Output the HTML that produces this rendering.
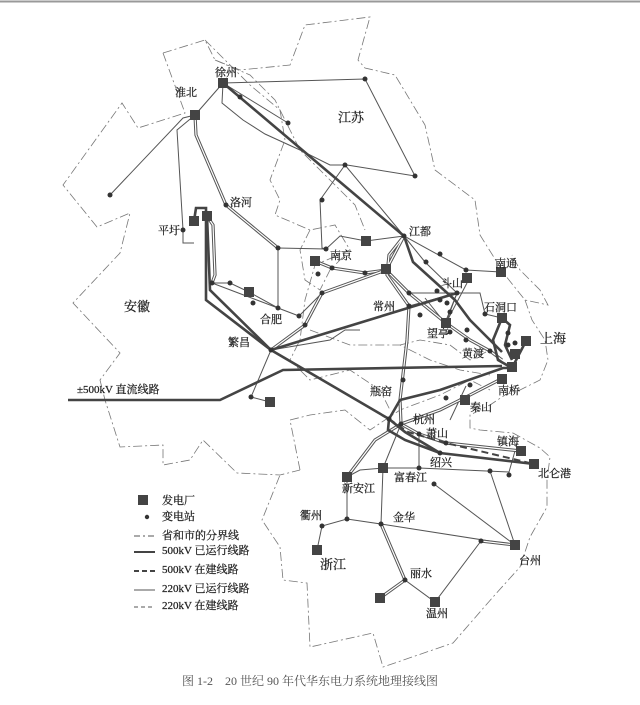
<!DOCTYPE html>
<html><head><meta charset="utf-8"><style>
body{margin:0;background:#fff;}
svg{display:block;font-family:"Liberation Serif","Noto Serif CJK SC",serif;}
.b{fill:none;stroke:#777;stroke-width:0.8;stroke-dasharray:9 3 2 3;}
.t{fill:none;stroke:#444;stroke-width:2.6;}
.s{fill:none;stroke:#555;stroke-width:1;}
.d{fill:none;stroke:#555;stroke-width:3.2;}
.di{fill:none;stroke:#fff;stroke-width:1.2;}
text{font-size:11px;fill:#222;stroke:#222;stroke-width:0.25;}
</style></head><body>
<svg width="640" height="705" viewBox="0 0 640 705">
<line x1="0" y1="1.5" x2="640" y2="1.5" stroke="#999" stroke-width="2"/>
<!-- borders -->
<polyline class="b" points="163,53 205,40 215,60 240,70 290,65 305,25 370,17 358,60 365,68 395,75 425,125 435,170 475,200 480,235 505,275 525,300 548,305 540,290 520,270 512,255"/>
<polyline class="b" points="525,300 532,320 545,340 548,360 540,380 520,390 505,395 490,405 470,415 470,428 480,430 513,433 540,448 550,457 547,480 547,507 530,537 520,567 493,597 453,643 383,667 373,633 310,647 307,583 283,580 280,547 262,520 280,475"/>
<polyline class="b" points="163,53 185,113 138,128 122,103 63,185 97,227 130,213 120,253 73,303 120,353 100,380 105,400 120,447 163,445 163,465 190,460 203,440 237,473 280,475 300,470"/>
<polyline class="b" points="300,470 290,420 310,415 345,410 370,430 400,410 440,395 470,380 490,390"/>
<polyline class="b" points="205,40 225,60 250,85 280,110 285,140 270,180 280,200 275,215 310,230 335,225 350,250 315,265 305,300 300,340 290,360 310,380 350,370 380,390 390,410"/>
<polyline class="b" points="215,60 250,75 275,100 290,130 300,150 320,170 340,190 355,205 365,230"/>
<polyline class="b" points="310,330 350,345 400,345 430,360 460,370 490,375"/>
<polyline class="b" points="400,345 420,340 450,345 470,360 490,350"/>
<polyline class="b" points="310,230 300,250 305,280 320,290 330,270 345,255"/>
<!-- 220kV lines single -->
<g class="s">
<polyline points="223,83 365,79 415,176 347,165"/>
<polyline points="223,83 288,123"/>
<polyline points="223,83 195,115 183,118 110,195"/>
<polyline points="195,115 177,130 183,230 183,243 194,243"/>
<polyline points="223,83 222,103 243,120 265,134 300,150 330,165 345,165 404,236 466,270 501,272"/>
<polyline points="345,165 320,200 322,248 326,249"/>
<polyline points="278,248 326,249 340,236 366,241 404,236"/>
<polyline points="278,248 278,308"/>
<polyline points="212,283 230,283 249,292 278,308 299,316 322,293"/>
<polyline points="212,283 278,308"/>
<polyline points="404,236 425,262 457,293 446,323 467,283"/>
<polyline points="409,293 457,293 480,293 485,314 502,318"/>
<polyline points="409,306 457,293 445,323 425,298"/>
<polyline points="271,350 251,397 270,402"/>
<polyline points="271,350 330,340 345,330 360,330"/>
<polyline points="401,424 383,468 381,524 347,519 322,526 317,550"/>
<polyline points="347,477 347,519"/>
<polyline points="381,524 515,545 490,471"/>
<polyline points="381,524 405,580 435,602 481,541 515,545"/>
<polyline points="434,484 515,545"/>
<polyline points="419,434 419,468 383,468"/>
<polyline points="419,468 509,472 515,451"/>
<polyline points="347,477 360,470 383,468"/>
<polyline points="466,386 450,420"/>
</g>
<!-- double lines -->
<g>
<polyline class="d" points="195,115 196,135 226,205 278,248"/>
<polyline class="di" points="195,115 196,135 226,205 278,248"/>
<polyline class="d" points="207,216 213,225 215,275 212,283"/>
<polyline class="di" points="207,216 213,225 215,275 212,283"/>
<polyline class="d" points="315,261 332,268 365,273 386,270"/>
<polyline class="di" points="315,261 332,268 365,273 386,270"/>
<polyline class="d" points="271,350 305,325 322,293 386,270 404,236 389,255 387,275 409,306 407,340 400,400 401,424"/>
<polyline class="di" points="271,350 305,325 322,293 386,270 404,236 389,255 387,275 409,306 407,340 400,400 401,424"/>
<polyline class="d" points="386,270 409,293 446,323 470,340 490,351 502,360"/>
<polyline class="di" points="386,270 409,293 446,323 470,340 490,351 502,360"/>
<polyline class="d" points="347,477 375,440 401,424 440,410 470,395 503,378"/>
<polyline class="di" points="347,477 375,440 401,424 440,410 470,395 503,378"/>
<polyline class="d" points="401,424 419,434 446,443 521,451"/>
<polyline class="di" points="401,424 419,434 446,443 521,451"/>
<polyline class="d" points="381,524 405,580 380,598"/>
<polyline class="di" points="381,524 405,580 380,598"/>
<polyline class="d" points="481,541 515,545"/>
<polyline class="di" points="481,541 515,545"/>
</g>
<!-- 500kV -->
<g class="t">
<polyline points="223,83 404,236 413,262 455,300 470,320 502,352"/>
<polyline points="194,221 196,208 206,208 206,300 271,350 389,419 405,432 440,453 534,464"/>
<polyline points="207,216 210,290 271,350"/>
<polyline points="271,350 457,293"/>
<polyline points="68,400 220,400 283,370 502,366"/>
<polyline points="502,318 493,340 498,360 512,368 526,341"/>
<polyline points="502,318 510,325 505,345 512,360"/>
<polyline points="389,419 400,400 440,390 503,368 511,368"/>
<polyline points="389,419 388,430 405,440 440,453"/>
</g>
<polyline points="389,419 408,432 446,443 534,464" fill="none" stroke="#444" stroke-width="2" stroke-dasharray="7 4"/>
<!-- plants -->
<g fill="#444">
<rect x="218" y="78" width="10" height="10"/><rect x="190" y="110" width="10" height="10"/>
<rect x="189" y="216" width="10" height="10"/><rect x="202" y="211" width="10" height="10"/>
<rect x="361" y="236" width="10" height="10"/><rect x="310" y="256" width="10" height="10"/>
<rect x="381" y="264" width="10" height="10"/><rect x="496" y="267" width="10" height="10"/>
<rect x="462" y="273" width="10" height="10"/><rect x="244" y="287" width="10" height="10"/>
<rect x="441" y="318" width="10" height="10"/><rect x="497" y="313" width="10" height="10"/>
<rect x="521" y="336" width="10" height="10"/><rect x="510" y="349" width="10" height="10"/>
<rect x="507" y="362" width="10" height="10"/><rect x="497" y="374" width="10" height="10"/>
<rect x="460" y="395" width="10" height="10"/><rect x="265" y="397" width="10" height="10"/>
<rect x="516" y="446" width="10" height="10"/><rect x="529" y="459" width="10" height="10"/>
<rect x="378" y="463" width="10" height="10"/><rect x="342" y="472" width="10" height="10"/>
<rect x="312" y="545" width="10" height="10"/><rect x="510" y="540" width="10" height="10"/>
<rect x="375" y="593" width="10" height="10"/><rect x="430" y="597" width="10" height="10"/>
<rect x="138" y="495" width="10" height="10"/>
</g>
<!-- dots -->
<g fill="#333">
<circle cx="288" cy="123" r="2.5"/><circle cx="365" cy="79" r="2.5"/><circle cx="415" cy="176" r="2.5"/>
<circle cx="110" cy="195" r="2.5"/><circle cx="183" cy="230" r="2.5"/><circle cx="226" cy="205" r="2.5"/>
<circle cx="240" cy="97" r="2.5"/><circle cx="345" cy="165" r="2.5"/><circle cx="322" cy="200" r="2.5"/>
<circle cx="278" cy="248" r="2.5"/><circle cx="326" cy="249" r="2.5"/><circle cx="404" cy="236" r="2.5"/>
<circle cx="212" cy="283" r="2.5"/><circle cx="230" cy="283" r="2.5"/><circle cx="253" cy="303" r="2.5"/>
<circle cx="278" cy="308" r="2.5"/><circle cx="299" cy="316" r="2.5"/><circle cx="322" cy="293" r="2.5"/>
<circle cx="305" cy="325" r="2.5"/><circle cx="318" cy="274" r="2.5"/><circle cx="332" cy="268" r="2.5"/>
<circle cx="365" cy="273" r="2.5"/><circle cx="440" cy="254" r="2.5"/><circle cx="466" cy="270" r="2.5"/>
<circle cx="426" cy="262" r="2.5"/><circle cx="409" cy="293" r="2.5"/><circle cx="409" cy="306" r="2.5"/>
<circle cx="437" cy="291" r="2.5"/><circle cx="457" cy="293" r="2.5"/><circle cx="420" cy="315" r="2.5"/>
<circle cx="447" cy="303" r="2.5"/><circle cx="440" cy="300" r="2.5"/><circle cx="450" cy="312" r="2.5"/>
<circle cx="485" cy="314" r="2.5"/><circle cx="450" cy="332" r="2.5"/><circle cx="467" cy="330" r="2.5"/>
<circle cx="466" cy="340" r="2.5"/><circle cx="490" cy="351" r="2.5"/><circle cx="508" cy="333" r="2.5"/>
<circle cx="508" cy="345" r="2.5"/><circle cx="515" cy="343" r="2.5"/><circle cx="271" cy="350" r="2.5"/>
<circle cx="251" cy="397" r="2.5"/><circle cx="401" cy="424" r="2.5"/><circle cx="389" cy="419" r="2.5"/>
<circle cx="419" cy="434" r="2.5"/><circle cx="446" cy="443" r="2.5"/><circle cx="440" cy="453" r="2.5"/>
<circle cx="446" cy="398" r="2.5"/><circle cx="470" cy="385" r="2.5"/><circle cx="419" cy="468" r="2.5"/>
<circle cx="490" cy="471" r="2.5"/><circle cx="509" cy="475" r="2.5"/><circle cx="434" cy="484" r="2.5"/>
<circle cx="381" cy="524" r="2.5"/><circle cx="347" cy="519" r="2.5"/><circle cx="322" cy="526" r="2.5"/>
<circle cx="405" cy="580" r="2.5"/><circle cx="481" cy="541" r="2.5"/><circle cx="403" cy="380" r="2.5"/>
<circle cx="147" cy="517" r="2.2"/>
</g>
<!-- labels -->
<text x="215" y="76">徐州</text><text x="175" y="96">淮北</text>
<text x="338" y="122" style="font-size:13px">江苏</text><text x="230" y="206">洛河</text>
<text x="158" y="234">平圩</text><text x="409" y="235">江都</text><text x="330" y="259">南京</text>
<text x="495" y="267">南通</text><text x="441" y="287">斗山</text><text x="124" y="311" style="font-size:13px">安徽</text>
<text x="373" y="310">常州</text><text x="260" y="323">合肥</text><text x="484" y="311">石洞口</text>
<text x="540" y="343" style="font-size:13px">上海</text><text x="427" y="337">望亭</text>
<text x="462" y="357">黄渡</text><text x="228" y="346">繁昌</text><text x="498" y="394">南桥</text>
<text x="77" y="393">±500kV 直流线路</text><text x="370" y="395">瓶窑</text><text x="470" y="411">秦山</text>
<text x="413" y="423">杭州</text><text x="426" y="437">萧山</text><text x="497" y="445">镇海</text>
<text x="430" y="466">绍兴</text><text x="538" y="477">北仑港</text><text x="394" y="481">富春江</text>
<text x="342" y="492">新安江</text><text x="300" y="519">衢州</text><text x="393" y="521">金华</text>
<text x="320" y="569" style="font-size:13px">浙江</text><text x="519" y="564">台州</text>
<text x="410" y="577">丽水</text><text x="426" y="617">温州</text>
<text x="162" y="504">发电厂</text><text x="162" y="520">变电站</text>
<text x="162" y="539">省和市的分界线</text><text x="162" y="554">500kV 已运行线路</text>
<text x="162" y="573">500kV 在建线路</text><text x="162" y="592">220kV 已运行线路</text>
<text x="162" y="609">220kV 在建线路</text>
<text x="182" y="685" style="font-size:12px;fill:#555;stroke:none">图 1-2　20 世纪 90 年代华东电力系统地理接线图</text>
<line x1="134" y1="536" x2="155" y2="536" stroke="#555" stroke-dasharray="6 3 2 3"/>
<line x1="134" y1="552" x2="155" y2="552" stroke="#444" stroke-width="2"/>
<line x1="134" y1="571" x2="155" y2="571" stroke="#444" stroke-width="2" stroke-dasharray="5 3"/>
<line x1="134" y1="590" x2="155" y2="590" stroke="#555" stroke-width="1"/>
<line x1="134" y1="607" x2="155" y2="607" stroke="#555" stroke-dasharray="4 3"/>
</svg>
</body></html>
